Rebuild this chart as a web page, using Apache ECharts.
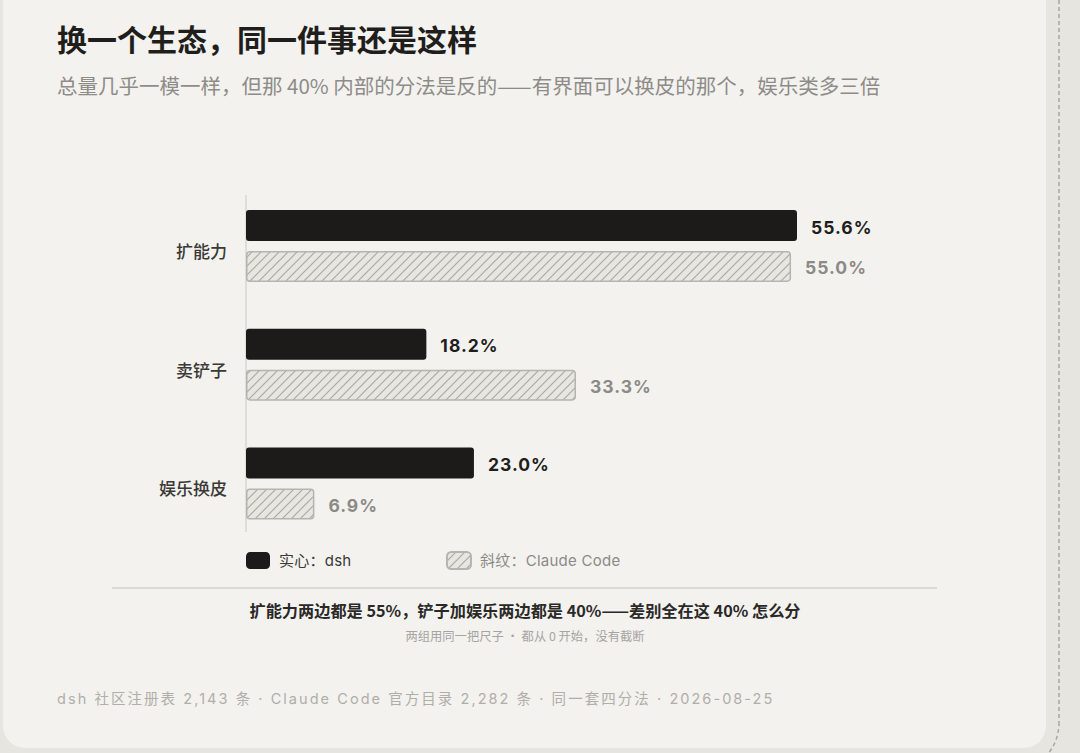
<!DOCTYPE html>
<html>
<head>
<meta charset="utf-8">
<script src="https://cdn.jsdelivr.net/npm/echarts@6/dist/echarts.min.js"></script>
<style>
  html, body { margin: 0; padding: 0; background: #e6e5e0; }
  #main { width: 1080px; height: 753px; }
</style>
</head>
<body>
<div id="main"></div>
<script>
// 分类与两组占比（%）
var categories = ['扩能力', '卖铲子', '娱乐换皮'];
var dshShare = [55.6, 18.2, 23.0];
var ccShare = [55.0, 33.3, 6.9];
var seriesNames = ['实心：dsh', '斜纹：Claude Code'];

// 文案
var titleText = '换一个生态，同一件事还是这样';
var subText = '总量几乎一模一样，但那 40% 内部的分法是反的——有界面可以换皮的那个，娱乐类多三倍';
var noteText = '扩能力两边都是 55%，铲子加娱乐两边都是 40%——差别全在这 40% 怎么分';
var noteSub = '两组用同一把尺子 · 都从 0 开始，没有截断';
var footText = 'dsh 社区注册表 2,143 条 · Claude Code 官方目录 2,282 条 · 同一套四分法 · 2026-08-25';

var CJK = '"Noto Sans CJK SC", "Noto Sans", sans-serif';
var NUM = 'Inter, "Noto Sans CJK SC", sans-serif';

function pct(p) { return p.value.toFixed(1) + '%'; }

//斜纹填充
function makeHatch() {
    let c = document.createElement('canvas');
    c.width = 9; c.height = 9;
    let ctx = c.getContext('2d');
    ctx.fillStyle = '#e7e6e1';
    ctx.fillRect(0, 0, 9, 9);
    ctx.strokeStyle = '#aba9a4';
    ctx.lineWidth = 1.2;
    ctx.beginPath();
    ctx.moveTo(0, 9); ctx.lineTo(9, 0);
    ctx.moveTo(-1, 1); ctx.lineTo(1, -1);
    ctx.moveTo(8, 10); ctx.lineTo(10, 8);
    ctx.stroke();
    return c;
}
var hatch = { image: makeHatch(), repeat: 'repeat' };

var chart = echarts.init(document.getElementById('main'), null, { renderer: 'svg' });
var option = {
    backgroundColor: '#e6e5e0',
    animation: false,
    grid: { left: 246, top: 186.6, width: 594.6, height: 356.25, containLabel: false },
    xAxis: { type: 'value', min: 0, max: 60, show: false },
    yAxis: {
        type: 'category',
        data: categories,
        inverse: true,
        axisLine: { show: false },
        axisTick: { show: false },
        axisLabel: { margin: 19, fontSize: 17, color: '#3a3936', fontFamily: CJK, fontWeight: 500,
                     verticalAlign: 'top', lineHeight: 9 }
    },
    legend: {
        left: 241,
        top: 546,
        itemWidth: 24,
        itemHeight: 17,
        itemGap: 96,
        selectedMode: false,
        textStyle: { fontSize: 15, fontFamily: NUM, padding: [0, 0, 0, 4] },
        data: [
            { name: seriesNames[0], textStyle: { color: '#3a3936' } },
            { name: seriesNames[1], textStyle: { color: '#8c8a86' } }
        ]
    },
    series: [
        {
            name: seriesNames[0],
            type: 'bar',
            data: dshShare,
            barWidth: 31,
            barGap: '32%',
            itemStyle: { color: '#1c1b19', borderRadius: 3 },
            label: {
                show: true, position: 'right', distance: 14, offset: [0, 1.5],
                formatter: pct,
                fontSize: 17.5, fontWeight: 'bold', fontFamily: NUM, color: '#1f1e1c'
            }
        },
        {
            name: seriesNames[1],
            type: 'bar',
            data: ccShare,
            barWidth: 31,
            itemStyle: { color: hatch, borderColor: '#b6b4af', borderWidth: 1.5, borderRadius: 3 },
            label: {
                show: true, position: 'right', distance: 14, offset: [0, 1.5],
                formatter: pct,
                fontSize: 17.5, fontWeight: 'bold', fontFamily: NUM, color: '#8c8a86'
            }
        }
    ],
    graphic: [
        // 卡片底
        { type: 'rect', z: -10, silent: true, shape: { x: 3, y: -30, width: 1043, height: 778, r: 22 }, style: { fill: '#f3f2ef' } },
        // 右侧虚线
        { type: 'polyline', z: -9, silent: true, shape: { points: [[1059, 0], [1059, 722]] },
          style: { fill: null, stroke: '#a9a7a2', lineWidth: 1.5, lineDash: [4, 3] } },
        { type: 'bezierCurve', z: -9, silent: true, shape: { x1: 1059, y1: 722, cpx1: 1059, cpy1: 742, x2: 1046, y2: 756 },
          style: { fill: null, stroke: '#a9a7a2', lineWidth: 1.5, lineDash: [4, 3] } },
        // 纵轴线
        { type: 'line', z: -5, silent: true, shape: { x1: 246, y1: 195, x2: 246, y2: 532 }, style: { stroke: '#d8d6d1', lineWidth: 1.5 } },
        { type: 'text', left: 57, top: 23, style: { text: titleText, fontSize: 30, fontWeight: 'bold', fontFamily: CJK, fill: '#1f1e1c' } },
        { type: 'text', left: 57, top: 75, style: { text: subText, fontSize: 20.5, fontFamily: CJK, fill: '#8e8c88' } },
        { type: 'line', silent: true, shape: { x1: 112, y1: 588, x2: 937, y2: 588 }, style: { stroke: '#dcdad5', lineWidth: 2 } },
        { type: 'text', x: 525, y: 610, style: { text: noteText, fontSize: 16.2, fontWeight: 'bold', fontFamily: CJK, fill: '#2a2927', align: 'center', verticalAlign: 'middle' } },
        { type: 'text', x: 525, y: 636, style: { text: noteSub, fontSize: 12.3, fontFamily: CJK, fill: '#a6a49f', align: 'center', verticalAlign: 'middle' } },
        { type: 'text', x: 57, y: 698, style: { text: footText, fontSize: 14.5, fontFamily: NUM, fill: '#b0aea9', verticalAlign: 'middle' } }
    ]
};
chart.setOption(option);

// 字距：页脚、图例和数值标签
function addSpacing() {
    let texts = document.querySelectorAll('#main text');
    Array.prototype.forEach.call(texts, function (t) {
        let s = t.textContent;
        if (s === footText) {
            t.style.letterSpacing = '2.05px';
        } else if (/^\d+\.\d%$/.test(s)) {
            t.style.letterSpacing = '1px';
        } else if (s === seriesNames[0] || s === seriesNames[1]) {
            t.style.letterSpacing = '0.25px';
        }
    });
}
addSpacing();
chart.on('finished', addSpacing);
</script>
</body>
</html>
